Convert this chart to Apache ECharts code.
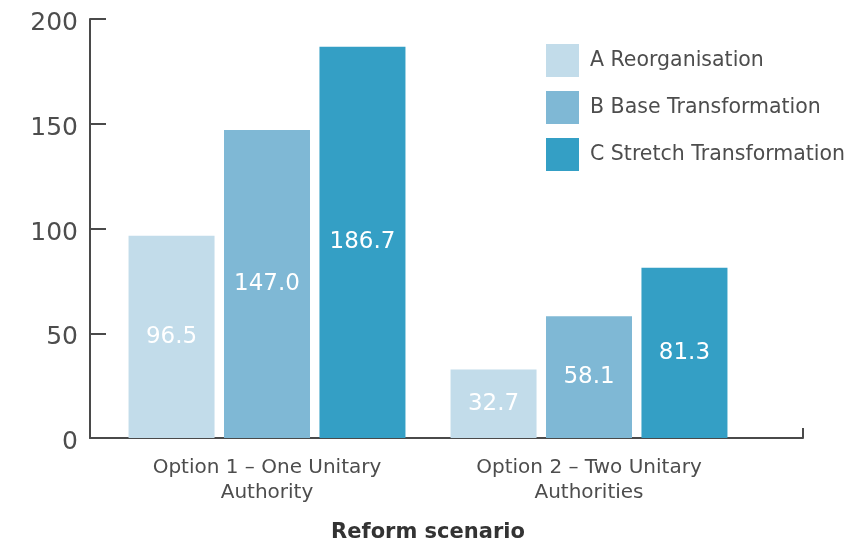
<!DOCTYPE html>
<html>
<head>
<meta charset="utf-8">
<script src="https://cdn.jsdelivr.net/npm/echarts@6/dist/echarts.min.js"></script>
<style>html,body{margin:0;padding:0;background:#fff}#c{width:865px;height:544px}</style>
</head>
<body>
<div id="c"></div>
<script>
const categories = ['Option 1 – One Unitary\nAuthority', 'Option 2 – Two Unitary\nAuthorities'];
const seriesNames = ['A Reorganisation', 'B Base Transformation', 'C Stretch Transformation'];
const seriesA = [96.5, 32.7];
const seriesB = [147.0, 58.1];
const seriesC = [186.7, 81.3];
const yTicks = [0, 50, 100, 150, 200];
const colors = ['#c2dcea', '#7fb8d5', '#349fc5'];

const FONT = 'DejaVu Sans';
const chart = echarts.init(document.getElementById('c'));
const values = [seriesA, seriesB, seriesC];
chart.setOption({
  animation: false,
  textStyle: { fontFamily: FONT },
  legend: {
    orient: 'vertical', left: 541, top: 39, itemWidth: 33, itemHeight: 33, itemGap: 14,
    icon: 'rect',
    textStyle: { fontSize: 20.5, color: '#4d4d4d', padding: [0, 0, 0, 6], fontFamily: FONT },
    data: seriesNames
  },
  grid: [
    { left: 106, right: 115, top: 19, bottom: 106, outerBoundsMode: 'none', containLabel: false },
    { left: 90, right: 62, top: 19, bottom: 106, outerBoundsMode: 'none', containLabel: false }
  ],
  xAxis: [
    {
      type: 'category', gridIndex: 0, data: categories,
      axisLine: { show: false }, axisTick: { show: false },
      axisLabel: { fontSize: 20, color: '#4d4d4d', lineHeight: 25, margin: 17, fontFamily: FONT },
      name: 'Reform scenario', nameLocation: 'middle', nameGap: 84,
      nameTextStyle: { fontSize: 21, fontWeight: 'bold', color: '#333', fontFamily: FONT }
    },
    {
      type: 'value', gridIndex: 1, min: 0, max: 1, interval: 1,
      axisLine: { show: true, lineStyle: { color: '#4a4a4a', width: 2 } },
      axisTick: { show: true, inside: true, length: 10, lineStyle: { color: '#4a4a4a', width: 2 } },
      splitLine: { show: false },
      axisLabel: { show: false }
    }
  ],
  yAxis: [
    { type: 'value', gridIndex: 0, min: 0, max: 200, interval: 50, show: false },
    {
      type: 'value', gridIndex: 1, min: yTicks[0], max: yTicks[yTicks.length - 1], interval: 50,
      axisLine: { show: true, lineStyle: { color: '#4a4a4a', width: 2 } },
      axisTick: { show: true, inside: true, length: 16, lineStyle: { color: '#4a4a4a', width: 2 } },
      splitLine: { show: false },
      axisLabel: { fontSize: 25, color: '#4d4d4d', margin: 12, verticalAlign: 'top', lineHeight: 9, fontFamily: FONT }
    }
  ],
  series: seriesNames.map((n, i) => ({
    name: n, type: 'bar', xAxisIndex: 0, yAxisIndex: 0,
    data: values[i], barWidth: 86, barGap: '11%',
    itemStyle: { color: colors[i] },
    label: { show: true, position: 'inside', color: '#fff', fontSize: 23, fontFamily: FONT,
      formatter: p => p.value.toFixed(1) }
  }))
});
</script>
</body>
</html>
